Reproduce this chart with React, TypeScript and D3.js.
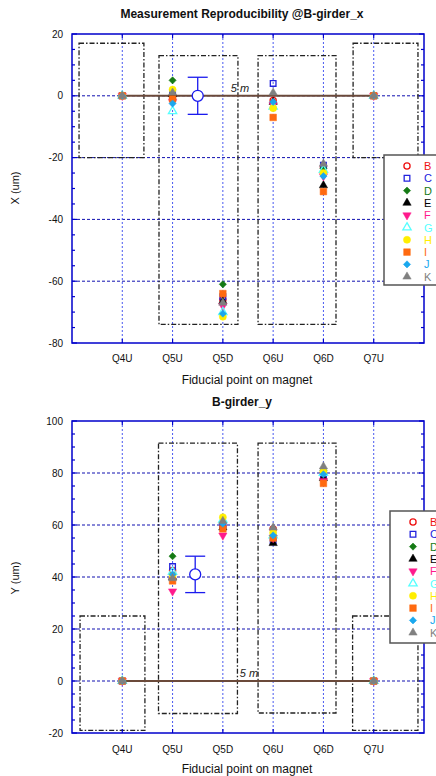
import React, { useRef, useEffect } from 'react';
import * as d3 from 'd3';

const categories = ['Q4U', 'Q5U', 'Q5D', 'Q6U', 'Q6D', 'Q7U'];
const seriesNames = ['B', 'C', 'D', 'E', 'F', 'G', 'H', 'I', 'J', 'K'];
const seriesColors = ['#ee1111', '#2222dd', '#157a15', '#000000', '#ff1a8c', '#55ffff', '#ffee00', '#ff6a10', '#1aa8ee', '#808080'];
const seriesShapes = ['circleOpen', 'squareOpen', 'diamond', 'triangle', 'triangleDown', 'triangleOpen', 'circle', 'square', 'diamond', 'triangle'];

// X (um) per series, one value per category
const xB = [0, -1, -66, -1.5, -23, 0];
const xC = [0, 1, -65, 4, -22.5, 0];
const xD = [0, 5, -61, -2.5, -23.5, 0];
const xE = [0, 0.5, -66.5, -2, -29, 0];
const xF = [0, -2, -68, -3, -26, 0];
const xG = [0, -5, -70, -3.5, -24, 0];
const xH = [0, 2, -71.5, -4, -25, 0];
const xI = [0, -1, -64, -7, -31, 0];
const xJ = [0, -2.5, -70.5, -2, -26, 0];
const xK = [0, 1, -67, 1, -22, 0];

// Y (um)
const yB = [0, 42.5, 59.5, 58.5, 80, 0];
const yC = [0, 44, 60, 54, 79, 0];
const yD = [0, 48, 61, 56, 81, 0];
const yE = [0, 40, 59, 53, 78, 0];
const yF = [0, 34.5, 56, 55, 77, 0];
const yG = [0, 42, 62, 56, 80, 0];
const yH = [0, 40.5, 63, 57, 80.5, 0];
const yI = [0, 38.5, 58.5, 55, 76, 0];
const yJ = [0, 41, 60.5, 56, 79.5, 0];
const yK = [0, 39.5, 61.5, 59, 82.5, 0];

const xTicks = [20, 0, -20, -40, -60, -80];
const yTicks = [100, 80, 60, 40, 20, 0, -20];

// magnet outlines: [from, to, top, bottom] in category index / um
const magnetsX = [[0.14, 1.43, 17, -20], [1.73, 3.3, 13, -74], [3.7, 5.25, 13, -74], [5.59, 6.88, 17, -20]];
const magnetsY = [[0.16, 1.45, 25, -19], [1.72, 3.29, 91.5, -12.5], [3.7, 5.25, 91.5, -12.3], [5.58, 6.88, 25, -19]];

// mean with error bar: [position, mean, err]
const meanX = [2.5, 0, 6];
const meanY = [2.45, 41, 7];

const font = 'Liberation Sans, Arial, sans-serif';

function marker(shape) {
  const s = d3.symbol();
  if (shape.startsWith('circle')) return s.type(d3.symbolCircle).size(shape === 'circle' ? 40 : 30)();
  if (shape.startsWith('square')) return s.type(d3.symbolSquare).size(shape === 'square' ? 44 : 32)();
  if (shape === 'diamond') return s.type(d3.symbolSquare).size(26)();
  return s.type(d3.symbolTriangle).size(30)();
}

function drawMarker(g, shape, color, cx, cy) {
  const open = shape.endsWith('Open');
  let rot = 0;
  if (shape === 'diamond') rot = 45;
  if (shape === 'triangleDown') rot = 180;
  g.append('path')
    .attr('d', marker(shape))
    .attr('transform', 'translate(' + cx + ',' + cy + ') rotate(' + rot + ')')
    .attr('fill', open ? 'none' : color)
    .attr('stroke', color)
    .attr('stroke-width', open ? 1.3 : 0.5);
}

function drawPanel(svg, c) {
  const x = d3.scaleLinear().domain([0, 7]).range([72, 424]);
  const y = d3.scaleLinear().domain(c.domain).range([c.bottom, c.top]);
  const g = svg.append('g').style('font-family', font);

  g.append('text').attr('x', 242).attr('y', c.titleY).attr('text-anchor', 'middle')
    .attr('font-weight', 'bold').attr('font-size', 12).attr('fill', '#111').text(c.title);

  // grid
  g.append('g').selectAll('line')
    .data(c.ticks.filter(t => t !== c.domain[0] && t !== c.domain[1]))
    .join('line')
    .attr('x1', x(0)).attr('x2', x(7))
    .attr('y1', d => y(d)).attr('y2', d => y(d))
    .attr('stroke', '#1010b0').attr('stroke-width', 1).attr('stroke-dasharray', '3,2');
  g.append('g').selectAll('line')
    .data(categories)
    .join('line')
    .attr('x1', (d, i) => x(i + 1)).attr('x2', (d, i) => x(i + 1))
    .attr('y1', y(c.domain[1])).attr('y2', y(c.domain[0]))
    .attr('stroke', '#4a5af0').attr('stroke-width', 1).attr('stroke-dasharray', '2,2');

  // magnets
  g.append('g').selectAll('rect')
    .data(c.boxes)
    .join('rect')
    .attr('x', d => x(d[0])).attr('y', d => y(d[2]))
    .attr('width', d => x(d[1]) - x(d[0])).attr('height', d => y(d[3]) - y(d[2]))
    .attr('fill', 'none').attr('stroke', '#222').attr('stroke-width', 1.3)
    .attr('stroke-dasharray', '5,2,1.5,2');

  // 5 m line
  g.append('line').attr('x1', x(1)).attr('x2', x(6)).attr('y1', y(0)).attr('y2', y(0))
    .attr('stroke', '#6b4a3a').attr('stroke-width', 2);
  g.append('text').attr('x', c.fiveX).attr('y', y(0) - 4).attr('text-anchor', 'middle')
    .attr('font-style', 'italic').attr('font-size', 11).attr('fill', '#222').text('5 m');

  // mean & error bar
  const [mx, mv, me] = c.mean;
  const eg = g.append('g').attr('stroke', '#1a1aee').attr('stroke-width', 1.3).attr('fill', 'none');
  eg.append('line').attr('x1', x(mx)).attr('x2', x(mx)).attr('y1', y(mv + me)).attr('y2', y(mv - me));
  eg.append('line').attr('x1', x(mx) - 10).attr('x2', x(mx) + 10).attr('y1', y(mv + me)).attr('y2', y(mv + me));
  eg.append('line').attr('x1', x(mx) - 10).attr('x2', x(mx) + 10).attr('y1', y(mv - me)).attr('y2', y(mv - me));
  eg.append('circle').attr('cx', x(mx)).attr('cy', y(mv)).attr('r', 5.5).attr('fill', '#fff');

  // points
  c.series.forEach((vals, si) => {
    vals.forEach((v, j) => drawMarker(g, seriesShapes[si], seriesColors[si], x(j + 1), y(v)));
  });

  // frame & ticks
  g.append('rect').attr('x', x(0)).attr('y', y(c.domain[1]))
    .attr('width', x(7) - x(0)).attr('height', y(c.domain[0]) - y(c.domain[1]))
    .attr('fill', 'none').attr('stroke', '#0000cc').attr('stroke-width', 1.5);
  const minor = d3.range(c.domain[0], c.domain[1] + 0.1, 5);
  const tg = g.append('g').attr('stroke', '#0000cc').attr('stroke-width', 1.2);
  minor.forEach(t => {
    const len = c.ticks.includes(t) ? 5 : 3;
    tg.append('line').attr('x1', x(0)).attr('x2', x(0) + len).attr('y1', y(t)).attr('y2', y(t));
    tg.append('line').attr('x1', x(7)).attr('x2', x(7) - len).attr('y1', y(t)).attr('y2', y(t));
  });
  categories.forEach((d, i) => {
    tg.append('line').attr('x1', x(i + 1)).attr('x2', x(i + 1)).attr('y1', y(c.domain[1])).attr('y2', y(c.domain[1]) + 4);
    tg.append('line').attr('x1', x(i + 1)).attr('x2', x(i + 1)).attr('y1', y(c.domain[0])).attr('y2', y(c.domain[0]) - 4);
  });

  // tick labels
  g.append('g').selectAll('text').data(c.ticks).join('text')
    .attr('x', 63).attr('y', d => y(d) + 3.5).attr('text-anchor', 'end')
    .attr('font-size', 10).attr('fill', '#111').text(d => d);
  g.append('g').selectAll('text').data(categories).join('text')
    .attr('x', (d, i) => x(i + 1)).attr('y', c.catY).attr('text-anchor', 'middle')
    .attr('font-size', 10).attr('fill', '#111').text(d => d);
  g.append('text').attr('x', 247).attr('y', c.xTitleY).attr('text-anchor', 'middle')
    .attr('font-size', 12).attr('fill', '#111').text('Fiducial point on magnet');
  g.append('text').attr('transform', 'translate(19,' + c.yTitleMid + ') rotate(-90)')
    .attr('text-anchor', 'middle').attr('font-size', 11).attr('fill', '#111').text(c.yLabel);

  // legend
  const L = c.legend;
  const lg = g.append('g');
  lg.append('rect').attr('x', L.x).attr('y', L.y).attr('width', 70).attr('height', L.h)
    .attr('fill', '#fff').attr('stroke', '#555').attr('stroke-width', 1.5);
  seriesNames.forEach((n, i) => {
    const yy = L.y + 11 + i * L.step;
    drawMarker(lg, seriesShapes[i], seriesColors[i], L.x + 23, yy);
    lg.append('text').attr('x', L.x + 40).attr('y', yy + 4).attr('font-size', 11)
      .attr('fill', seriesColors[i]).text(n);
  });
}

const topCfg = {
  title: 'Measurement Reproducibility @B-girder_x', titleY: 18,
  domain: [-80, 20], top: 34, bottom: 343, ticks: xTicks,
  catY: 362, xTitleY: 384, yLabel: 'X (um)', yTitleMid: 188,
  boxes: magnetsX, mean: meanX, fiveX: 240,
  series: [xB, xC, xD, xE, xF, xG, xH, xI, xJ, xK],
  legend: { x: 384, y: 155, h: 130, step: 12.3 },
};

const bottomCfg = {
  title: 'B-girder_y', titleY: 406,
  domain: [-20, 100], top: 421, bottom: 733, ticks: yTicks,
  catY: 753, xTitleY: 773, yLabel: 'Y (um)', yTitleMid: 578,
  boxes: magnetsY, mean: meanY, fiveX: 249,
  series: [yB, yC, yD, yE, yF, yG, yH, yI, yJ, yK],
  legend: { x: 390, y: 511, h: 132, step: 12.3 },
};

export default function App() {
  const ref = useRef(null);
  useEffect(() => {
    const svg = d3.select(ref.current);
    svg.selectAll('*').remove();
    drawPanel(svg, topCfg);
    drawPanel(svg, bottomCfg);
  }, []);
  return (
    <svg ref={ref} width={436} height={776}
      style={{ position: 'absolute', left: 0, top: 0, background: '#fff' }} />
  );
}
